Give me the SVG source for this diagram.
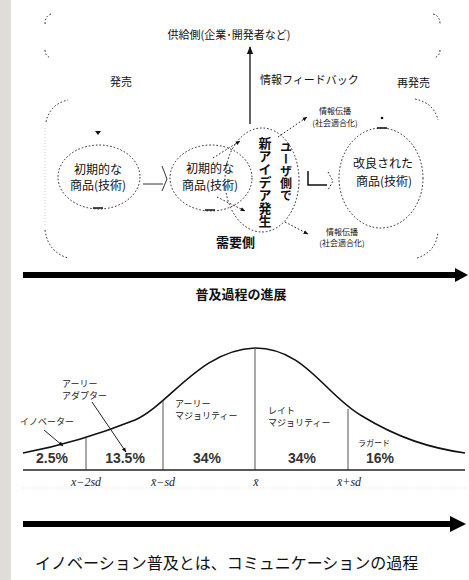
<svg xmlns="http://www.w3.org/2000/svg" width="469" height="580" viewBox="0 0 469 580">
<style>
.jp{font-family:"Noto Sans CJK JP","Noto Sans",sans-serif;fill:#111}
.lb{font-size:11px}
.el{font-size:12px}
.sm{font-size:8px}
.cv{font-size:9px;fill:#222}
.pc{font-family:"Liberation Sans",Arial,sans-serif;font-size:14px;font-weight:bold;fill:#333;text-anchor:middle}
.sd{font-family:"Liberation Serif","DejaVu Serif",serif;font-style:italic;font-size:12px;fill:#222;text-anchor:middle}
.dot{fill:none;stroke:#222;stroke-width:1;stroke-dasharray:1.6 2}
.vl{stroke:#555;stroke-width:1}
.vert{writing-mode:vertical-rl}
</style>
<defs>
<marker id="ah" viewBox="0 0 10 10" refX="9" refY="5" markerWidth="6" markerHeight="6" orient="auto">
<path d="M0,1 L10,5 L0,9 z" fill="#111"/>
</marker>
<marker id="ahs" viewBox="0 0 10 10" refX="9" refY="5" markerWidth="5" markerHeight="5" orient="auto">
<path d="M0,1 L10,5 L0,9 z" fill="#111"/>
</marker>
</defs>
<rect x="0" y="0" width="469" height="580" fill="#fff"/>
<rect x="0" y="0" width="11" height="580" fill="#e0ddd9"/>

<g id="supply-bracket">
<path class="dot" d="M51,14 Q45,16 45,24"/>
<path class="dot" d="M45,50 Q45,56 51,58"/>
<path class="dot" d="M433,14 Q440,16 440,24"/>
<path class="dot" d="M440,50 Q440,56 434,58"/>
<text class="jp lb" x="229" y="39" text-anchor="middle">供給側(企業･開発者など)</text>
</g>
<g id="demand-bracket">
<path class="dot" d="M46,122 Q50,104 68,100"/>
<path class="dot" d="M415,99 Q434,103 438,120"/>
<path class="dot" d="M45,230 Q48,252 68,258"/>
<path class="dot" d="M417,258 Q436,252 438,232"/>
<line x1="45" y1="128" x2="45" y2="226" stroke="#ccc" stroke-width="1" stroke-dasharray="1 2"/>
<text class="jp" x="216" y="247" font-size="13" font-weight="bold">需要側</text>
</g>
<g id="labels-top">
<text class="jp lb" x="110" y="86">発売</text>
<text class="jp lb" x="260" y="84">情報フィードバック</text>
<text class="jp lb" x="397" y="87">再発売</text>
</g>

<g id="node-initial1">
<ellipse class="dot" cx="99" cy="177" rx="41" ry="32"/>
<path d="M95,131 L101,131 L98,135 z" fill="#111"/>
<line x1="93" y1="208" x2="103" y2="208" stroke="#111" stroke-width="1.5"/>
<text class="jp el" x="98" y="174" text-anchor="middle">初期的な</text>
<text class="jp el" x="98" y="190" text-anchor="middle">商品(技術)</text>
</g>
<g id="node-initial2">
<ellipse class="dot" cx="211" cy="178" rx="41" ry="33"/>
<line x1="205" y1="210" x2="215" y2="210" stroke="#111" stroke-width="1.5"/>
<text class="jp el" x="210" y="173" text-anchor="middle">初期的な</text>
<text class="jp el" x="210" y="190" text-anchor="middle">商品(技術)</text>
</g>
<g id="node-newidea">
<ellipse class="dot" cx="262" cy="180" rx="37" ry="52"/>
<text class="jp vert" x="265" y="137" font-size="13" font-weight="bold">新アイデア発生</text>
<text class="jp vert" x="286" y="141" font-size="12" font-weight="bold">ユーザ側で</text>
</g>
<g id="node-improved">
<ellipse class="dot" cx="381" cy="178" rx="42" ry="50"/>
<circle cx="382" cy="118" r="1.3" fill="#111"/>
<line x1="377" y1="128" x2="387" y2="128" stroke="#111" stroke-width="1.5"/>
<text class="jp el" x="383" y="168" text-anchor="middle">改良された</text>
<text class="jp el" x="384" y="186" text-anchor="middle">商品(技術)</text>
</g>
<g id="node-prop-top">
<text class="jp sm" x="335" y="114" text-anchor="middle">情報伝播</text>
<text class="jp sm" x="335" y="126" text-anchor="middle">(社会適合化)</text>
</g>
<g id="node-prop-bottom">
<text class="jp sm" x="342" y="235" text-anchor="middle">情報伝播</text>
<text class="jp sm" x="342" y="246" text-anchor="middle">(社会適合化)</text>
</g>

<g id="connectors">
<line x1="250" y1="124" x2="250" y2="47" stroke="#111" stroke-width="1.3" marker-end="url(#ah)"/>
<line x1="143" y1="184" x2="163" y2="184" stroke="#333" stroke-width="1"/>
<polyline points="162,166 167,179 162,191" fill="none" stroke="#333" stroke-width="1"/>
<path class="dot" d="M213,158 L240,141" marker-end="url(#ahs)"/>
<path class="dot" d="M217,197 L245,211" marker-end="url(#ahs)"/>
<path class="dot" d="M278,137 L307,117" marker-end="url(#ahs)"/>
<path class="dot" d="M285,222 L308,234" marker-end="url(#ahs)"/>
<polyline points="308,171 308,185 327,185" fill="none" stroke="#111" stroke-width="1.5"/>
<polyline class="dot" points="328,172 333,181 328,190"/>
<line x1="23" y1="275" x2="457" y2="275" stroke="#000" stroke-width="6"/>
<polygon points="455,268 468,275 455,282" fill="#000"/>
</g>

<text class="jp" x="241" y="299" font-size="13" font-weight="bold" text-anchor="middle">普及過程の進展</text>

<g id="bell-curve">
<path d="M23,453 C60,446 100,434 135,420 C170,404 200,350 255,348 C305,348 325,395 362,416 C398,438 430,448 465,453" fill="none" stroke="#111" stroke-width="1.6"/>
<line class="vl" x1="86" y1="438" x2="86" y2="470"/>
<line class="vl" x1="163" y1="401" x2="163" y2="470"/>
<line class="vl" x1="255" y1="348" x2="255" y2="470"/>
<line class="vl" x1="348" y1="409" x2="348" y2="470"/>
<line x1="23" y1="470" x2="465" y2="470" stroke="#222" stroke-width="1.5"/>
<line x1="23" y1="488" x2="465" y2="488" stroke="#ddd" stroke-width="1" stroke-dasharray="1 2"/>
</g>
<g id="bell-labels">
<text class="jp cv" x="62" y="387">アーリー</text>
<text class="jp cv" x="62" y="399">アダプター</text>
<text class="jp cv" x="20" y="425">イノベーター</text>
<text class="jp cv" x="175" y="407">アーリー</text>
<text class="jp cv" x="175" y="419">マジョリティー</text>
<text class="jp cv" x="268" y="414">レイト</text>
<text class="jp cv" x="268" y="426">マジョリティー</text>
<text class="jp" x="358" y="446" font-size="8" fill="#222">ラガード</text>
<text class="pc" x="52" y="463">2.5%</text>
<text class="pc" x="125" y="463">13.5%</text>
<text class="pc" x="207" y="463">34%</text>
<text class="pc" x="302" y="463">34%</text>
<text class="pc" x="380" y="463">16%</text>
<text class="sd" x="86" y="486">x−2sd</text>
<text class="sd" x="163" y="486">x̄−sd</text>
<text class="sd" x="256" y="486">x̄</text>
<text class="sd" x="349" y="486">x̄+sd</text>
</g>
<g id="bell-connectors">
<line x1="44" y1="430" x2="63" y2="446" stroke="#222" stroke-width="1" marker-end="url(#ahs)"/>
<line x1="92" y1="402" x2="126" y2="452" stroke="#222" stroke-width="1" marker-end="url(#ahs)"/>
<line x1="23" y1="524" x2="452" y2="524" stroke="#000" stroke-width="6"/>
<polygon points="450,516 466,524 450,532" fill="#000"/>
</g>
<text class="jp" x="35" y="569" font-size="16" fill="#222">イノベーション普及とは、コミュニケーションの過程</text>
</svg>
